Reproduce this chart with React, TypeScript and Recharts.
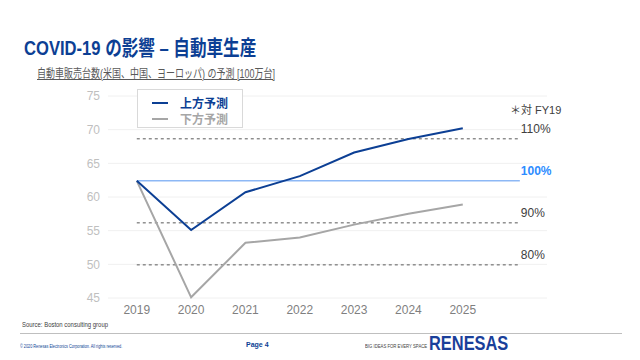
import React from "react";
import {
  LineChart,
  Line,
  XAxis,
  YAxis,
  CartesianGrid,
  ReferenceLine,
} from "recharts";

const years = [2019, 2020, 2021, 2022, 2023, 2024, 2025];
const upper = [62.4, 55.1, 60.7, 63.1, 66.6, 68.6, 70.2];
const lower = [62.4, 45.1, 53.2, 54.0, 55.9, 57.5, 58.9];
const yTicks = [45, 50, 55, 60, 65, 70, 75];
const base = 62.4;
const levels = [1.1, 1.0, 0.9, 0.8];
const levelLabels = ["110%", "100%", "90%", "80%"];
const refRange = [2019, 2026.05];

const data = years.map((y, i) => ({ year: y, up: upper[i], low: lower[i] }));

const JP = '"Liberation Sans", Arial, "Noto Sans CJK JP", sans-serif';

const levelLabel = (text: string, main: boolean) => (props: any) => {
  const { viewBox } = props;
  const x = viewBox.x + viewBox.width + 1;
  const y = viewBox.y - 6;
  return (
    <text
      x={x}
      y={y}
      fill={main ? "#2d8cff" : "#404040"}
      fontSize={12}
      fontWeight={main ? 700 : 400}
      fontFamily={JP}
    >
      {text}
    </text>
  );
};

const narrow = (sx: number): React.CSSProperties => ({
  transform: `scaleX(${sx})`,
  transformOrigin: "left center",
  whiteSpace: "nowrap",
});

const App = () => {
  return (
    <div
      style={{
        position: "absolute",
        left: 0,
        top: 0,
        width: 640,
        height: 360,
        background: "#fff",
        fontFamily: JP,
        overflow: "hidden",
      }}
    >
      <div
        style={{
          position: "absolute",
          left: 24,
          top: 31,
          fontSize: 21,
          fontWeight: 700,
          color: "#0c3f94",
          ...narrow(0.79),
        }}
      >
        COVID-19 の影響 – 自動車生産
      </div>
      <div
        style={{
          position: "absolute",
          left: 37,
          top: 64,
          fontSize: 12,
          color: "#595959",
          textDecoration: "underline",
          ...narrow(0.75),
        }}
      >
        自動車販売台数(米国、中国、ヨーロッパ) の予測 [100万台]
      </div>

      <LineChart
        width={640}
        height={360}
        data={data}
        margin={{ top: 96, right: 93, bottom: 32, left: 78 }}
      >
        <CartesianGrid vertical={false} stroke="#f0f0f0" />
        <XAxis
          dataKey="year"
          type="number"
          domain={[2018.47, 2026.55]}
          ticks={years}
          axisLine={false}
          tickLine={false}
          tickSize={0}
          tickMargin={7}
          height={30}
          tick={{ fill: "#7f7f7f", fontSize: 12, fontFamily: JP }}
        />
        <YAxis
          type="number"
          domain={[45, 75]}
          ticks={yTicks}
          axisLine={false}
          tickLine={false}
          tickSize={0}
          tickMargin={8}
          width={30}
          tick={{ fill: "#bfbfbf", fontSize: 12, fontFamily: JP }}
        />
        {levels.map((lv, i) => (
          <ReferenceLine
            key={lv}
            segment={[
              { x: refRange[0], y: base * lv },
              { x: refRange[1], y: base * lv },
            ]}
            stroke={lv === 1 ? "#8db8f5" : "#595959"}
            strokeWidth={lv === 1 ? 1.5 : 1}
            strokeDasharray={lv === 1 ? undefined : "3 3"}
            ifOverflow="visible"
            label={levelLabel(levelLabels[i], lv === 1)}
          />
        ))}
        <Line
          dataKey="low"
          stroke="#a6a6a6"
          strokeWidth={2}
          dot={false}
          type="linear"
          isAnimationActive={false}
        />
        <Line
          dataKey="up"
          stroke="#0c3f94"
          strokeWidth={2}
          dot={false}
          type="linear"
          isAnimationActive={false}
        />
      </LineChart>

      <div
        style={{
          position: "absolute",
          left: 137,
          top: 89,
          width: 106,
          height: 39,
          border: "1px solid #d9d9d9",
          background: "#fff",
          boxSizing: "border-box",
          fontSize: 12,
          fontWeight: 700,
          fontFamily: '"Noto Sans CJK JP", sans-serif',
        }}
      >
        <div style={{ position: "absolute", left: 14, top: 4, display: "flex", alignItems: "center", color: "#0c3f94" }}>
          <span style={{ display: "inline-block", width: 16, height: 2, background: "#0c3f94", marginRight: 12 }} />
          上方予測
        </div>
        <div style={{ position: "absolute", left: 14, top: 20, display: "flex", alignItems: "center", color: "#a6a6a6" }}>
          <span style={{ display: "inline-block", width: 16, height: 2, background: "#a6a6a6", marginRight: 12 }} />
          下方予測
        </div>
      </div>

      <div
        style={{
          position: "absolute",
          left: 510,
          top: 101,
          fontSize: 11,
          color: "#404040",
          whiteSpace: "nowrap",
        }}
      >
        ＊対 FY19
      </div>

      <div style={{ position: "absolute", left: 22, top: 321, fontSize: 7, color: "#404040", ...narrow(0.85) }}>
        Source: Boston consulting group
      </div>
      <div style={{ position: "absolute", left: 20, top: 333, width: 602, height: 1, background: "#bfbfbf" }} />
      <div style={{ position: "absolute", left: 20, top: 343, fontSize: 5, color: "#0c3f94", ...narrow(0.76) }}>
        © 2020 Renesas Electronics Corporation. All rights reserved.
      </div>
      <div style={{ position: "absolute", left: 246, top: 341, fontSize: 7, fontWeight: 700, color: "#0c3f94" }}>
        Page 4
      </div>
      <div style={{ position: "absolute", left: 365, top: 343, fontSize: 5, color: "#404040", ...narrow(0.85) }}>
        BIG IDEAS FOR EVERY SPACE
      </div>
      <div
        style={{
          position: "absolute",
          left: 429,
          top: 332,
          fontSize: 20,
          fontWeight: 700,
          color: "#1a3f9a",
          ...narrow(0.82),
        }}
      >
        RENESAS
      </div>
    </div>
  );
};

export default App;
